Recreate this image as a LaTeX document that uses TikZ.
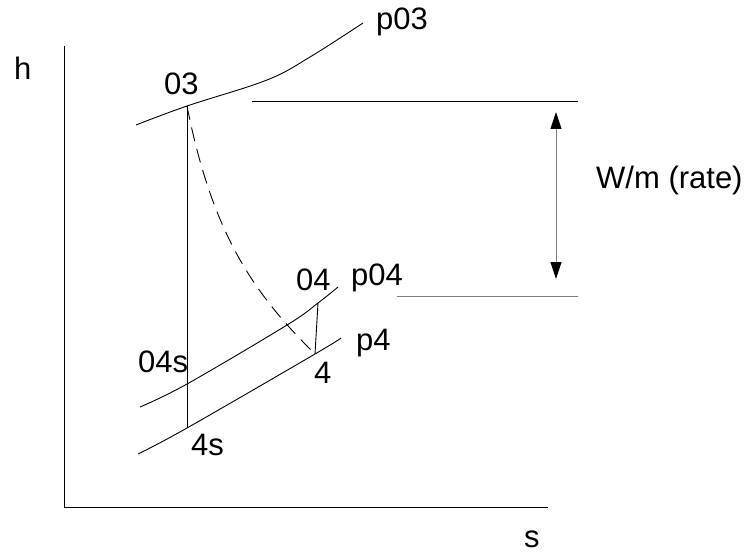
\documentclass[tikz,border=0pt]{standalone}
\usepackage{fontspec}
\setmainfont{Liberation Sans}
\usetikzlibrary{arrows.meta}
\definecolor{cLine}{HTML}{000000}
\definecolor{cGray}{HTML}{7F7F7F}

\begin{document}
\begin{tikzpicture}[
  x=1pt, y=-1pt,
  thin line/.style={draw=cLine, line width=0.9pt},
  isobar/.style={draw=cLine, line width=0.9pt},
  expansion/.style={draw=cLine, line width=0.9pt, dash pattern=on 14pt off 8pt},
  worklevel/.style={draw=#1, line width=0.9pt},
  workarrow/.style={draw=cGray, line width=1pt,
    {Triangle[length=17pt,width=11pt,color=black]}-{Triangle[length=17pt,width=11pt,color=black]}},
  statelabel/.style={font=\fontsize{31}{36}\selectfont, inner sep=0pt, anchor=base west},
]
\useasboundingbox (0,0) rectangle (751,553);

% axes
\coordinate (origin) at (64,507);
\coordinate (htop) at (64,46);
\coordinate (send) at (548,507);
\draw[thin line] (htop) -- (origin) -- (send);
\node[statelabel] (hlabel) at (14,80) {h};
\node[statelabel] (slabel) at (524,547) {s};

% state points
\coordinate (st03) at (187,106);
\coordinate (st04s) at (187,384);
\coordinate (st4s) at (187,428);
\coordinate (st04) at (318,303);
\coordinate (st4) at (315,354);

% isobars
\draw[isobar] plot[smooth, tension=0.6] coordinates
  {(136,125) (st03) (267,80) (310,57) (363,23)};
\draw[isobar] plot[smooth, tension=0.6] coordinates
  {(140,407) (st04s) (287,325) (st04) (338,287)};
\draw[isobar] plot[smooth, tension=0.6] coordinates
  {(138,454) (st4s) (st4) (341,338)};

% processes
\draw[thin line] (st03) -- (st4s);
\draw[expansion] (st03) .. controls (212,232) and (252,292) .. (st4);
\draw[thin line] (st04) -- (st4);

% labels
\node[statelabel] (l03) at (164,95) {03};
\node[statelabel] (lp03) at (376,30) {p03};
\node[statelabel] (l04) at (296,290) {04};
\node[statelabel] (lp04) at (351,285) {p04};
\node[statelabel] (lp4) at (356,350) {p4};
\node[statelabel] (l04s) at (138,372) {04s};
\node[statelabel] (l4) at (314,383) {4};
\node[statelabel] (l4s) at (191,455) {4s};

% work
\coordinate (wtopL) at (252,101);
\coordinate (wtopR) at (578,101);
\coordinate (wbotL) at (397,296);
\coordinate (wbotR) at (578,296);
\draw[worklevel=cLine] (wtopL) -- (wtopR);
\draw[worklevel=cGray] (wbotL) -- (wbotR);
\coordinate (atop) at (556,112);
\coordinate (abot) at (556,279);
\draw[workarrow] (atop) -- (abot);
\node[statelabel] (wlabel) at (596,189) {W/m (rate)};

\end{tikzpicture}
\end{document}
